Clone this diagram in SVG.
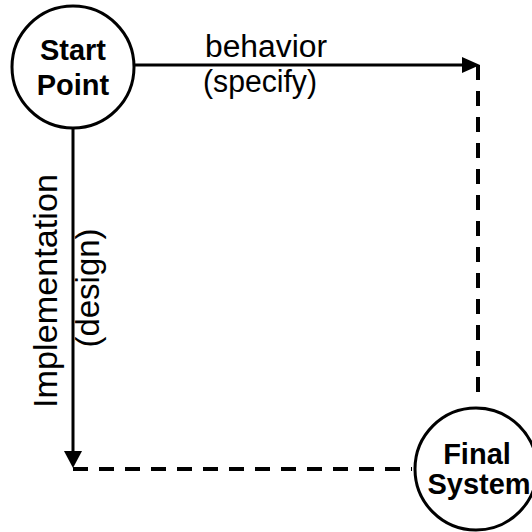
<svg xmlns="http://www.w3.org/2000/svg" width="532" height="532" viewBox="0 0 532 532">
<defs>
<style>
.node{fill:#fff;stroke:#000;stroke-width:3}
.nt{font-family:"Liberation Sans",Arial,sans-serif;font-weight:bold;font-size:29px;fill:#000;text-anchor:middle}
.lt{font-family:"Liberation Sans",Arial,sans-serif;font-size:31px;fill:#000}
.vt{font-family:"Liberation Sans",Arial,sans-serif;font-size:33px;fill:#000;text-anchor:middle}
.solid{stroke:#000;stroke-width:3;fill:none}
.dash{stroke:#000;stroke-width:4;fill:none;stroke-dasharray:15 11}
</style>
</defs>
<rect width="532" height="532" fill="#fff"/>
<g id="connectors">
<line class="solid" x1="133" y1="65" x2="464" y2="65"/>
<polygon points="480,65 462,57 462,73" fill="#000"/>
<line class="solid" x1="73" y1="128" x2="73" y2="454"/>
<polygon points="73,468 64,451 82,451" fill="#000"/>
<line class="dash" x1="478" y1="65" x2="478" y2="402"/>
<line class="dash" x1="73" y1="469" x2="412" y2="469"/>
<text class="lt" x="205" y="57" textLength="122" lengthAdjust="spacingAndGlyphs">behavior</text>
<text class="lt" x="203" y="92" textLength="114" lengthAdjust="spacingAndGlyphs">(specify)</text>
<text class="vt" transform="translate(57,291) rotate(-90)" textLength="234" lengthAdjust="spacingAndGlyphs">Implementation</text>
<text class="vt" transform="translate(99,288) rotate(-90)">(design)</text>
</g>
<g id="start">
<circle class="node" cx="73" cy="67" r="61"/>
<text class="nt" x="73" y="60">Start</text>
<text class="nt" x="73" y="95">Point</text>
</g>
<g id="final">
<circle class="node" cx="476" cy="469" r="61"/>
<text class="nt" x="477" y="464">Final</text>
<text class="nt" x="479" y="494">System</text>
</g>
</svg>
